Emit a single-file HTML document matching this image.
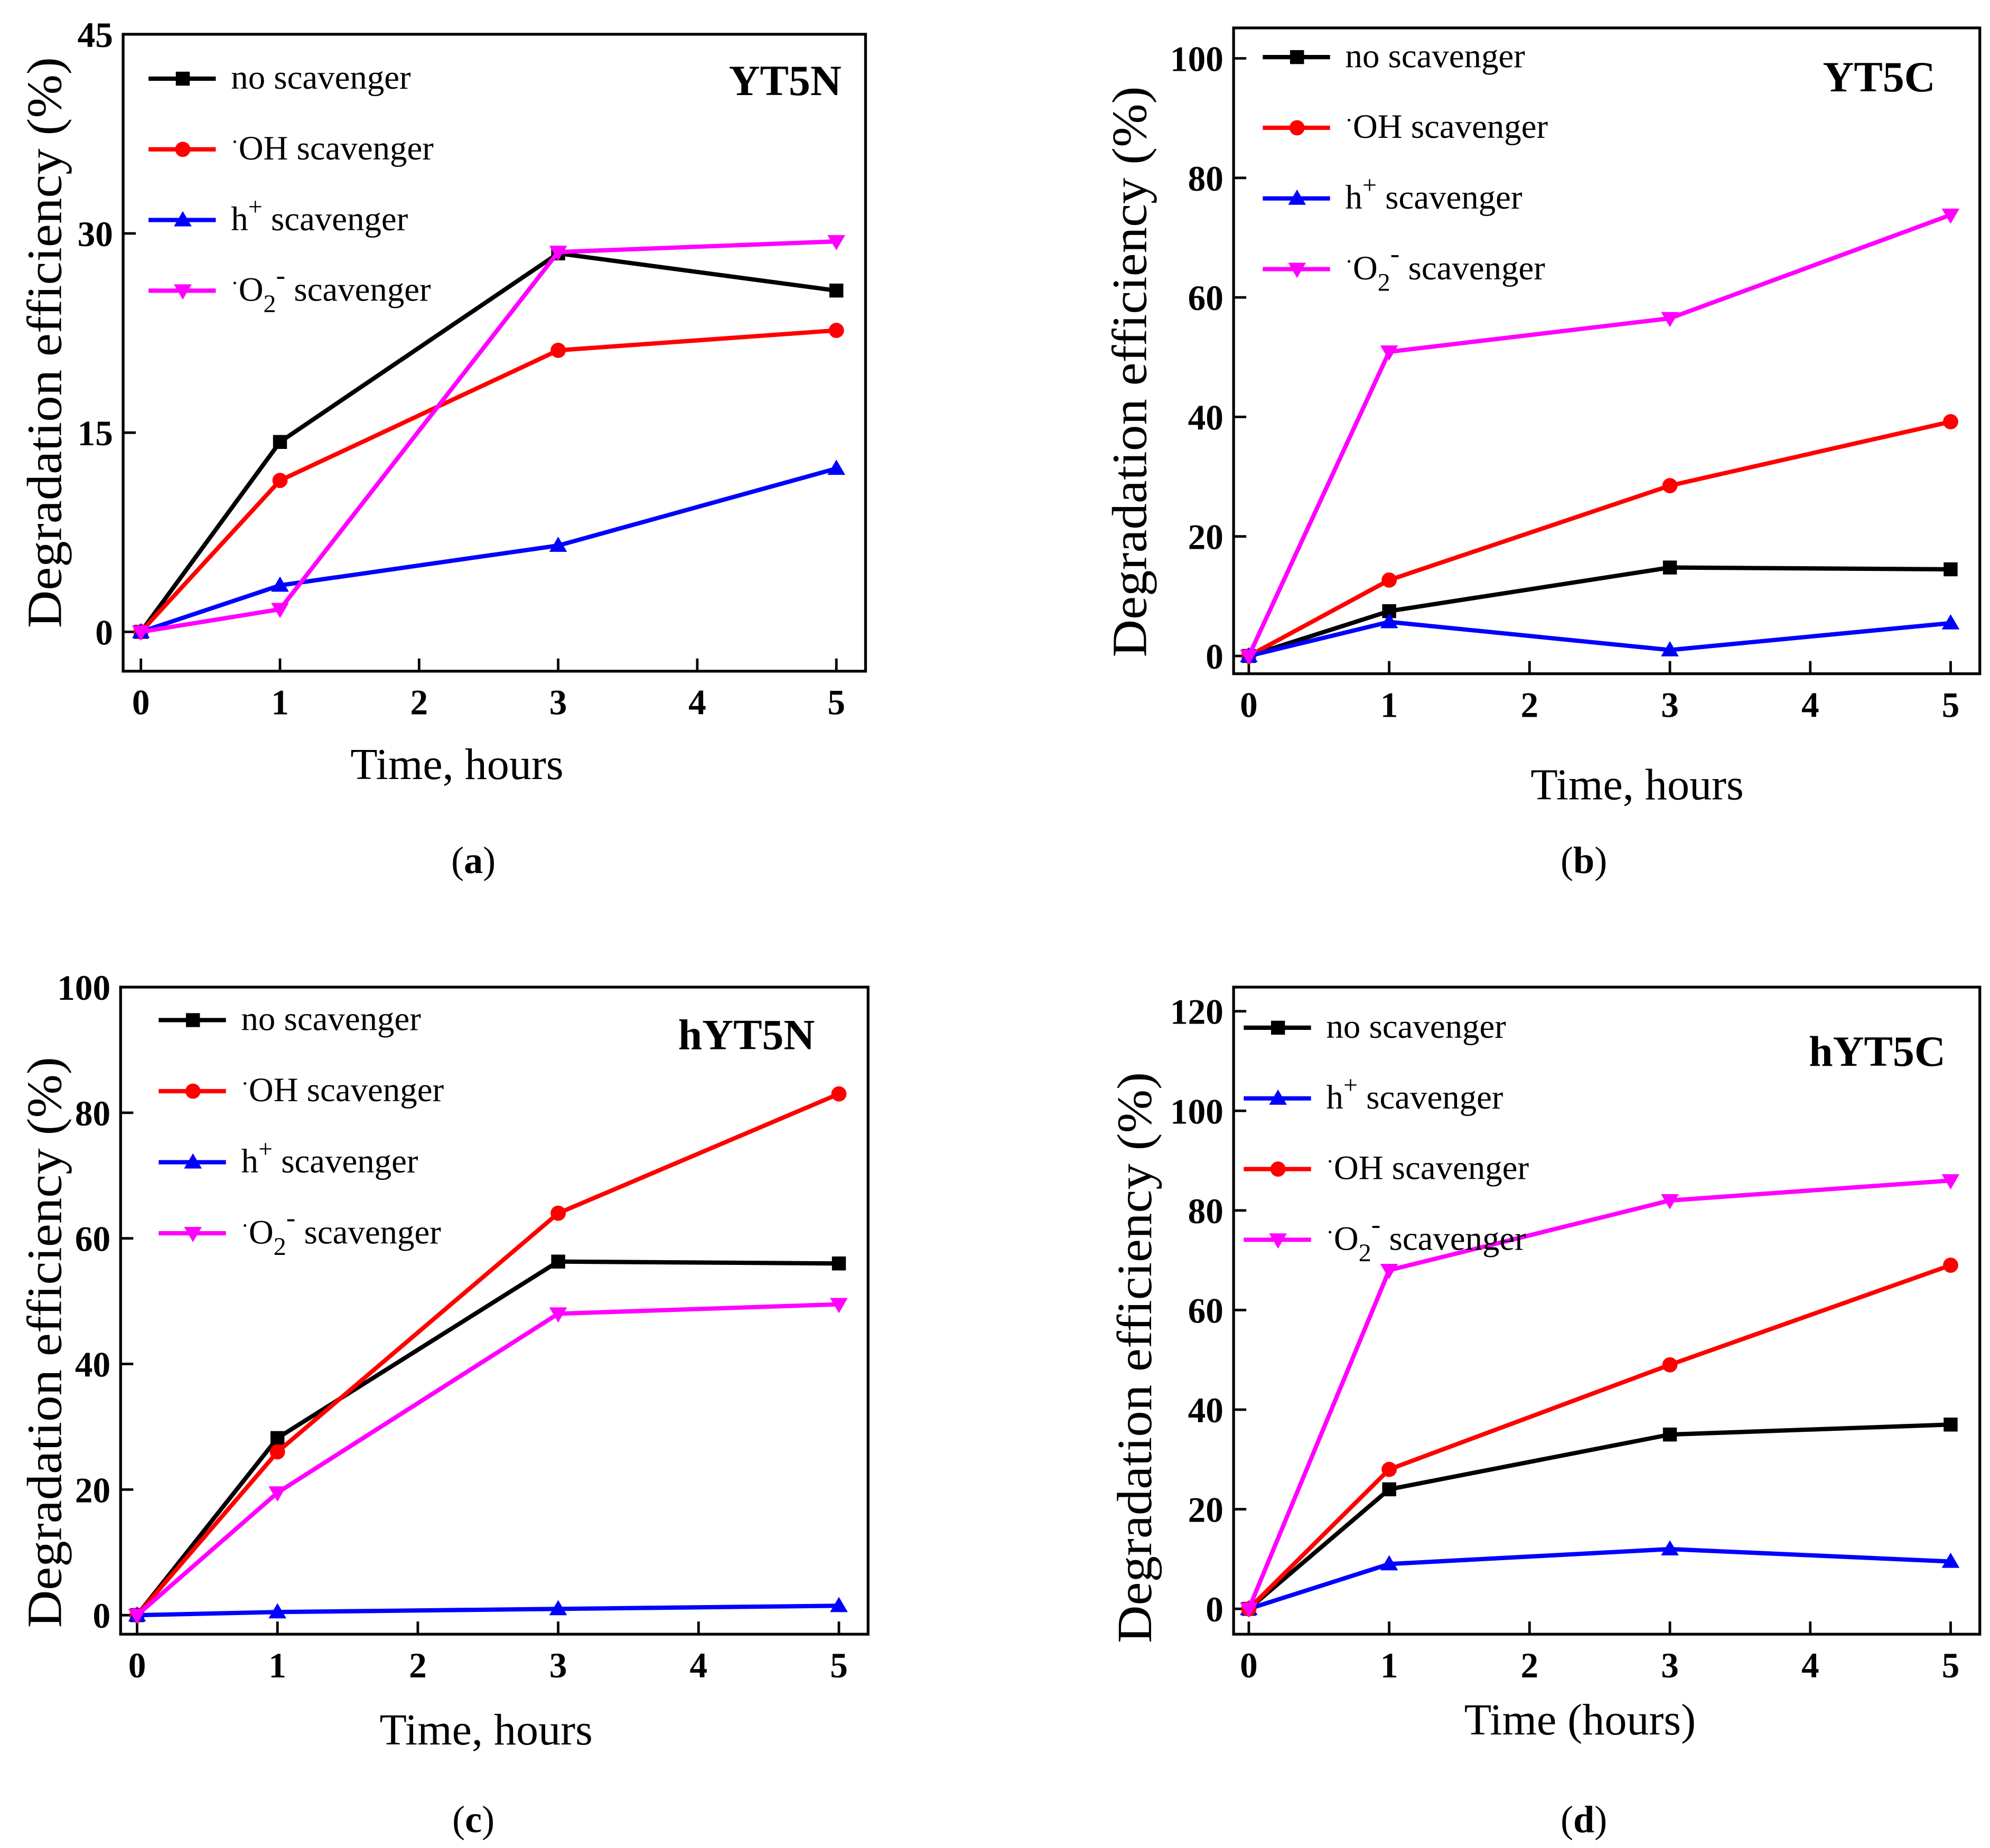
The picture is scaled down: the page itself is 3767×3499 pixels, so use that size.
<!DOCTYPE html>
<html><head><meta charset="utf-8"><style>
html,body{margin:0;padding:0;background:#fff}
svg{display:block}
text{font-family:"Liberation Serif",serif}
</style></head><body>
<svg id="fig" xmlns="http://www.w3.org/2000/svg" width="3767" height="3499" viewBox="0 0 1568 1456.5" font-family="Liberation Serif, serif">
</svg>
<script>
const xVals=[0,1,3,5];
const aBlack=[0,14.3,28.5,25.7], aRed=[0,11.4,21.2,22.7], aBlue=[0,3.5,6.5,12.3], aMag=[0,1.7,28.6,29.4];
const bBlack=[0,7.5,14.8,14.5], bRed=[0,12.7,28.5,39.2], bBlue=[0,5.7,1.0,5.5], bMag=[0,50.9,56.5,73.8];
const cBlack=[0,28.2,56.3,56.0], cRed=[0,26.0,64.0,83.0], cBlue=[0,0.5,1.0,1.5], cMag=[0,19.5,48.0,49.5];
const dBlack=[0,24.0,35.0,37.0], dBlue=[0,9.0,12.0,9.5], dRed=[0,28.0,49.0,69.0], dMag=[0,68.0,82.0,86.0];
const xTicks=[0,1,2,3,4,5];
const aYTicks=[0,15,30,45], bYTicks=[0,20,40,60,80,100], cYTicks=[0,20,40,60,80,100], dYTicks=[0,20,40,60,80,100,120];

const NS="http://www.w3.org/2000/svg";
const svg=document.getElementById('fig');
function mk(tag,attrs,parent){const e=document.createElementNS(NS,tag);for(const k in attrs)e.setAttribute(k,attrs[k]);(parent||svg).appendChild(e);return e;}
const COL={black:'#000',red:'#f00',blue:'#00f',mag:'#f0f'};
const MARK={black:'sq',red:'ci',blue:'up',mag:'dn'};
function marker(g,type,x,y,c){
  let e;
  if(type==='sq')e=mk('rect',{x:x-5.5,y:y-5.5,width:11,height:11,fill:c},g);
  else if(type==='ci')e=mk('circle',{cx:x,cy:y,r:6,fill:c},g);
  else if(type==='up')e=mk('polygon',{points:`${x},${y-7} ${x-7},${y+5} ${x+7},${y+5}`,fill:c},g);
  else e=mk('polygon',{points:`${x},${y+7} ${x-7},${y-5} ${x+7},${y-5}`,fill:c},g);
  
  
}
function legendText(g,kind,x,y){
  const t=mk('text',{x:x,y:y+8,'font-size':27,'font-family':'Liberation Serif, serif'},g);
  
  
  if(kind==='black'){t.textContent='no scavenger';}
  else if(kind==='red'){t.innerHTML='<tspan dy="-8" font-size="18">·</tspan><tspan dy="8">OH scavenger</tspan>';}
  else if(kind==='blue'){t.innerHTML='h<tspan dy="-12" font-size="20">+</tspan><tspan dy="12"> scavenger</tspan>';}
  else {t.innerHTML='<tspan dy="-8" font-size="18">·</tspan><tspan dy="8">O</tspan><tspan dy="9" font-size="20">2</tspan><tspan dy="-22" font-size="22">-</tspan><tspan dy="13"> scavenger</tspan>';}
}
function panel(p){
  const g=mk('g',{});
  
  
  const X=v=>p.x0+(v-0)*(p.x5-p.x0)/5;
  const Y=v=>p.y0-(v)*(p.y0-p.yt)/p.ymaxT;
  const box=mk('rect',{x:p.bx1,y:p.by1,width:p.bx2-p.bx1,height:p.by2-p.by1,fill:'none',stroke:'#000','stroke-width':2.2},g);
  
  
  xTicks.forEach(v=>{
    mk('line',{x1:X(v),x2:X(v),y1:p.by2,y2:p.by2-10,stroke:'#000','stroke-width':2},g);
    const t=mk('text',{x:X(v),y:p.by2+34,'font-size':28,'font-weight':'bold','text-anchor':'middle','font-family':'Liberation Sans, sans-serif'},g);
    
    
    t.textContent=v;
  });
  p.yTicks.forEach(v=>{
    mk('line',{x1:p.bx1,x2:p.bx1+10,y1:Y(v),y2:Y(v),stroke:'#000','stroke-width':2},g);
    const t=mk('text',{x:p.bx1-8,y:Y(v)+10,'font-size':28,'font-weight':'bold','text-anchor':'end'},g);
    
    
    t.textContent=v;
  });
  p.series.forEach(s=>{
    const pts=xVals.map((xv,i)=>X(xv)+','+Y(s.vals[i])).join(' ');
    const l=mk('polyline',{points:pts,fill:'none',stroke:COL[s.kind],'stroke-width':3.4},g);
    
    
    xVals.forEach((xv,i)=>marker(g,MARK[s.kind],X(xv),Y(s.vals[i]),COL[s.kind]));
  });
  p.legend.forEach((k,i)=>{
    const y=p.ly+i*p.ldy;
    const l=mk('line',{x1:p.lx,x2:p.lx+53,y1:y,y2:y,stroke:COL[k],'stroke-width':3.4},g);
    
    
    marker(g,MARK[k],p.lx+27,y,COL[k]);
    legendText(g,k,p.lx+65,y);
  });
  const tt=mk('text',{x:p.tx,y:p.ty,'font-size':34,'font-weight':'bold','text-anchor':'end'},g);
  
  
  tt.textContent=p.title;
  const xt=mk('text',{x:p.xtx,y:p.xty,'font-size':35,'text-anchor':'middle'},g);
  
  
  xt.textContent=p.xtitle;
  const yt=mk('text',{x:0,y:0,'font-size':39,'text-anchor':'middle','font-family':'Liberation Serif, serif',textLength:450,lengthAdjust:'spacingAndGlyphs',transform:`translate(${p.ytx},${p.yty}) rotate(-90)`},g);
  
  
  yt.textContent='Degradation efficiency (%)';
  const lb=mk('text',{x:p.labx,y:p.laby,'font-size':30,'text-anchor':'middle'},g);
  
  
  lb.innerHTML='(<tspan font-weight="bold">'+p.lab+'</tspan>)';
}
panel({name:'panel-a',bx1:97,bx2:682,by1:27,by2:529,x0:111,x5:659,y0:498,yt:27,ymaxT:45,yTicks:aYTicks,
 series:[{kind:'black',vals:aBlack},{kind:'red',vals:aRed},{kind:'blue',vals:aBlue},{kind:'mag',vals:aMag}],
 legend:['black','red','blue','mag'],lx:117,ly:62,ldy:55.7,title:'YT5N',tx:663,ty:75,xtitle:'Time, hours',xtx:360,xty:614,ytx:48,yty:270,lab:'a',labx:373,laby:688});
panel({name:'panel-b',bx1:972,bx2:1560,by1:22,by2:531,x0:984,x5:1537,y0:517,yt:46,ymaxT:100,yTicks:bYTicks,
 series:[{kind:'black',vals:bBlack},{kind:'red',vals:bRed},{kind:'blue',vals:bBlue},{kind:'mag',vals:bMag}],
 legend:['black','red','blue','mag'],lx:995,ly:45,ldy:55.7,title:'YT5C',tx:1525,ty:72,xtitle:'Time, hours',xtx:1290,xty:630,ytx:903,yty:293,lab:'b',labx:1248,laby:688});
panel({name:'panel-c',bx1:95,bx2:684,by1:778,by2:1288,x0:108,x5:661,y0:1273,yt:778,ymaxT:100,yTicks:cYTicks,
 series:[{kind:'black',vals:cBlack},{kind:'red',vals:cRed},{kind:'blue',vals:cBlue},{kind:'mag',vals:cMag}],
 legend:['black','red','blue','mag'],lx:125,ly:804,ldy:56,title:'hYT5N',tx:642,ty:827,xtitle:'Time, hours',xtx:383,xty:1375,ytx:48,yty:1058,lab:'c',labx:373,laby:1444});
panel({name:'panel-d',bx1:972,bx2:1560,by1:778,by2:1288,x0:984,x5:1537,y0:1268,yt:797,ymaxT:120,yTicks:dYTicks,
 series:[{kind:'black',vals:dBlack},{kind:'blue',vals:dBlue},{kind:'red',vals:dRed},{kind:'mag',vals:dMag}],
 legend:['black','blue','red','mag'],lx:980,ly:810,ldy:55.7,title:'hYT5C',tx:1533,ty:840,xtitle:'Time (hours)',xtx:1245,xty:1367,ytx:907,yty:1070,lab:'d',labx:1248,laby:1444});
</script>
</body></html>
